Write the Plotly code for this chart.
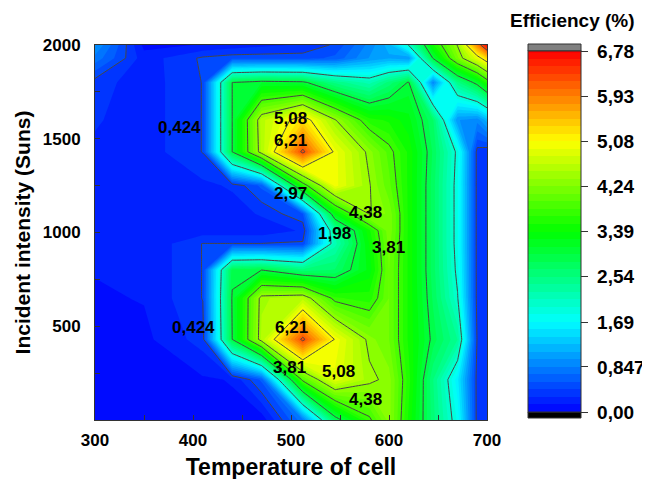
import plotly.graph_objects as go

temperature = [300, 350, 410, 440, 470, 512, 545, 580, 600, 620, 645, 670, 690, 700]
intensity = [0, 215, 430, 650, 800, 940, 1010, 1100, 1250, 1430, 1600, 1800, 1930, 2000]

eff_0    = [0.05, 0.05, 0.08, 0.10, 0.05, 0.80, 2.80, 3.75, 4.30, 3.50, 2.60, 1.80, 0.35, 0.30]
eff_215  = [0.05, 0.08, 0.12, 0.15, 0.60, 3.90, 4.90, 4.45, 4.30, 3.60, 2.55, 1.60, 0.35, 0.30]
eff_430  = [0.10, 0.10, 0.35, 2.97, 4.55, 6.30, 5.05, 4.30, 4.10, 3.50, 2.90, 2.40, 0.40, 0.30]
eff_650  = [0.12, 0.15, 0.43, 3.00, 4.50, 4.60, 3.70, 3.60, 4.10, 3.50, 2.80, 2.00, 0.35, 0.30]
eff_800  = [0.15, 0.15, 0.43, 2.90, 2.97, 2.60, 2.70, 3.30, 4.10, 3.50, 2.75, 1.90, 0.35, 0.30]
eff_940  = [0.15, 0.15, 0.43, 0.43, 0.43, 0.45, 2.20, 3.40, 4.15, 3.50, 2.75, 1.85, 0.35, 0.30]
eff_1010 = [0.15, 0.15, 0.20, 0.20, 0.20, 0.30, 2.30, 3.50, 4.20, 3.50, 2.75, 1.85, 0.35, 0.30]
eff_1100 = [0.15, 0.15, 0.20, 0.22, 0.30, 0.55, 3.30, 4.40, 4.20, 3.50, 2.75, 1.85, 0.35, 0.30]
eff_1250 = [0.20, 0.20, 0.25, 0.30, 0.60, 3.60, 5.00, 4.40, 4.00, 3.50, 2.75, 1.85, 0.35, 0.30]
eff_1430 = [0.25, 0.20, 0.43, 2.97, 4.55, 6.30, 5.00, 4.30, 3.90, 3.50, 2.80, 1.90, 0.35, 0.30]
eff_1600 = [0.30, 0.20, 0.43, 2.97, 4.60, 5.30, 4.40, 3.60, 3.50, 3.30, 2.70, 1.00, 0.90, 1.20]
eff_1800 = [0.35, 0.20, 0.43, 2.97, 3.10, 3.05, 2.50, 2.20, 2.60, 3.00, 0.90, 2.50, 3.10, 3.60]
eff_1930 = [0.80, 0.20, 0.45, 0.50, 0.50, 0.50, 0.60, 1.00, 1.10, 1.00, 3.00, 4.20, 4.90, 5.35]
eff_2000 = [1.00, 0.10, 0.15, 0.20, 0.25, 0.30, 0.45, 0.90, 1.20, 2.00, 3.50, 4.40, 5.90, 6.78]

efficiency = [eff_0, eff_215, eff_430, eff_650, eff_800, eff_940, eff_1010, eff_1100,
              eff_1250, eff_1430, eff_1600, eff_1800, eff_1930, eff_2000]

z_min, z_max = 0.0, 6.78
n_bands = 48
line_levels = [0.424, 1.98, 2.97, 3.81, 4.38, 5.08, 6.21]

cbar_ticks = [0.0, 0.847, 1.69, 2.54, 3.39, 4.24, 5.08, 5.93, 6.78]
cbar_text = ["0,00", "0,847", "1,69", "2,54", "3,39", "4,24", "5,08", "5,93", "6,78"]

# contour label texts and where they sit (data coords)
label_text = ["0,424", "5,08", "6,21", "2,97", "4,38", "1,98", "3,81",
              "0,424", "6,21", "3,81", "5,08", "4,38"]
label_x = [386, 499, 499, 499, 576, 544, 599, 401, 500, 498, 548, 576]
label_y = [1559, 1610, 1490, 1208, 1107, 995, 920, 495, 495, 282, 261, 112]

rainbow = [[0.0, "rgb(0,0,255)"], [0.25, "rgb(0,255,255)"], [0.5, "rgb(0,255,0)"],
           [0.75, "rgb(255,255,0)"], [1.0, "rgb(255,0,0)"]]

FONT = "Liberation Sans, Arial, sans-serif"
NB = "\u00a0"

fig = go.Figure()
fig.add_trace(go.Contour(
    x=temperature, y=intensity, z=efficiency,
    zmin=z_min, zmax=z_max, autocontour=False,
    contours=dict(start=z_min, end=z_max, size=(z_max - z_min) / n_bands, coloring="fill"),
    colorscale=rainbow,
    line=dict(width=0, smoothing=0),
    colorbar=dict(
        x=(528 - 95) / 392, xanchor="left", xpad=0,
        y=(420 - 231.5) / 375, yanchor="middle", ypad=0,
        lenmode="pixels", len=361, thickness=53,
        outlinewidth=1, outlinecolor="#333",
        tickmode="array", tickvals=cbar_ticks, ticktext=[NB + t for t in cbar_text],
        ticks="outside", ticklen=7, tickcolor="#333",
        tickfont=dict(family=FONT, size=19, color="black", weight="bold"),
    ),
    hoverinfo="skip",
))

for lv in line_levels:
    fig.add_trace(go.Contour(
        x=temperature, y=intensity, z=efficiency,
        autocontour=False,
        contours=dict(start=lv, end=lv, size=1, coloring="lines"),
        colorscale=[[0, "rgb(70,70,70)"], [1, "rgb(70,70,70)"]],
        line=dict(width=1, color="rgb(70,70,70)", smoothing=0),
        showscale=False, hoverinfo="skip",
    ))

for t, lx, ly in zip(label_text, label_x, label_y):
    fig.add_annotation(x=lx, y=ly, text=t, showarrow=False, xref="x", yref="y",
                       xanchor="center", yanchor="middle",
                       font=dict(family=FONT, size=17, color="black", weight="bold"))

fig.add_annotation(x=(572 - 95) / 392, y=(420 - 20) / 375, xref="paper", yref="paper",
                   xanchor="center", yanchor="middle",
                   text="Efficiency (%)", showarrow=False,
                   font=dict(family=FONT, size=19, color="black", weight="bold"))

# over/under-range swatches of the colour bar
bar_x0 = (528 - 95) / 392
bar_x1 = (581 - 95) / 392
fig.add_shape(type="rect", xref="paper", yref="paper", x0=bar_x0, x1=bar_x1,
              y0=(420 - 51) / 375, y1=(420 - 44) / 375,
              fillcolor="rgb(128,128,128)", line=dict(width=1, color="#333"))
fig.add_shape(type="rect", xref="paper", yref="paper", x0=bar_x0, x1=bar_x1,
              y0=(420 - 418) / 375, y1=(420 - 412) / 375,
              fillcolor="black", line=dict(width=1, color="#333"))

axis_common = dict(showgrid=False, zeroline=False, showline=True, linecolor="#333",
                   linewidth=1, mirror=True, ticks="inside", ticklen=5, tickcolor="#333",
                   automargin=False,
                   tickfont=dict(family=FONT, size=17, color="black", weight="bold"))

fig.update_xaxes(range=[300, 700], tickvals=[300, 400, 500, 600, 700],
                 minor=dict(ticks="inside", dtick=50, ticklen=5, tickcolor="#333"),
                 ticklabelstandoff=5,
                 title=dict(text="Temperature of cell", standoff=9,
                            font=dict(family=FONT, size=23, color="black", weight="bold")),
                 **axis_common)
fig.update_yaxes(range=[0, 2000], tickvals=[500, 1000, 1500, 2000],
                 minor=dict(ticks="inside", dtick=250, ticklen=5, tickcolor="#333"),
                 ticklabelstandoff=10,
                 title=dict(text="Incident intensity (Suns)", standoff=6,
                            font=dict(family=FONT, size=21, color="black", weight="bold")),
                 **axis_common)

# the page adds an 8 px body margin, so the figure's own margins are reduced by 8
fig.update_layout(width=650, height=479,
                  margin=dict(l=87, r=171, t=37, b=67, autoexpand=False),
                  paper_bgcolor="white", plot_bgcolor="white", showlegend=False)

fig.write_html("out.html")
